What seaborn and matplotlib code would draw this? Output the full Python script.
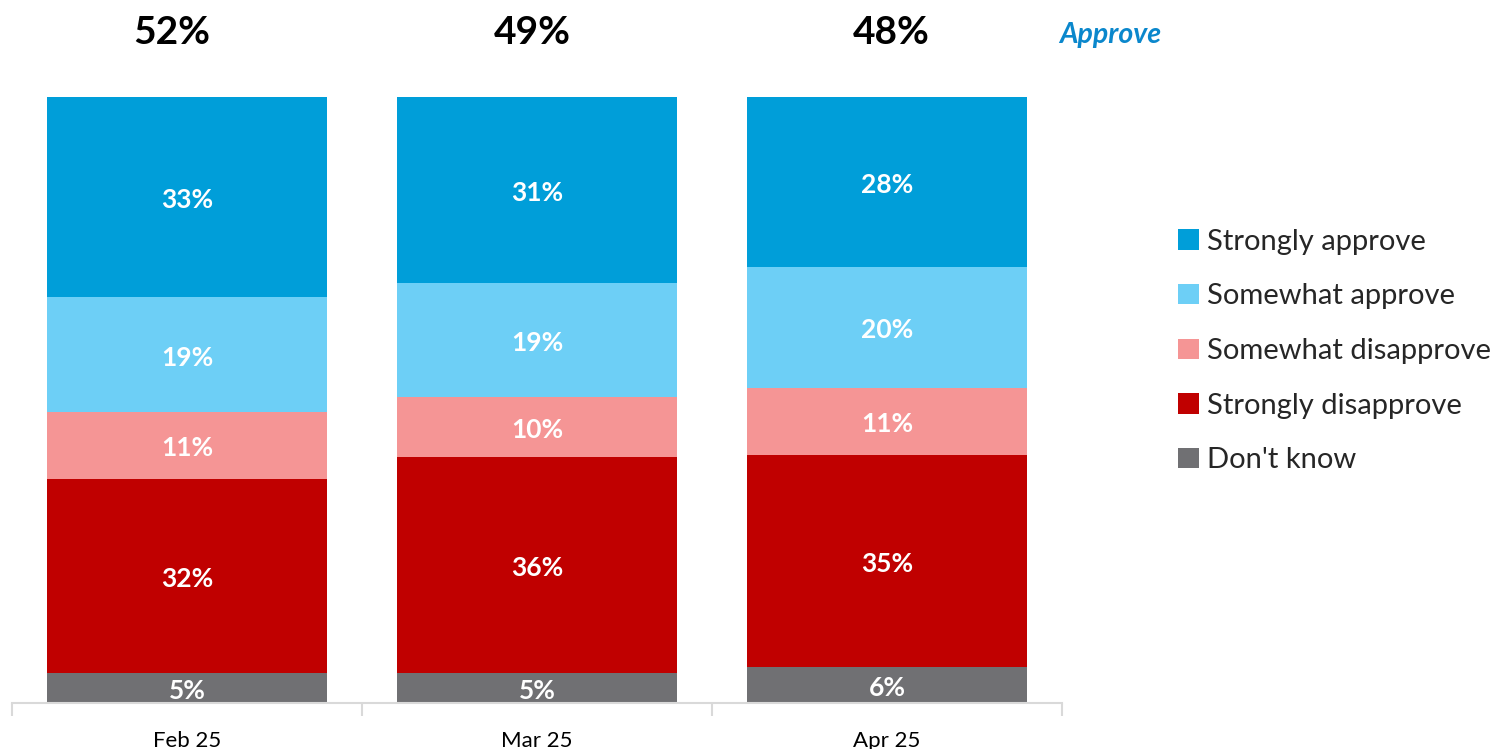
import numpy as np
import pandas as pd
import matplotlib
matplotlib.use("Agg")
import matplotlib.pyplot as plt
import seaborn as sns
from matplotlib.patches import Patch

months = ["Feb 25", "Mar 25", "Apr 25"]
series = ["Strongly approve", "Somewhat approve", "Somewhat disapprove", "Strongly disapprove", "Don't know"]
strongly_approve = [33, 31, 28]
somewhat_approve = [19, 19, 20]
somewhat_disapprove = [11, 10, 11]
strongly_disapprove = [32, 36, 35]
dont_know = [5, 5, 6]
approve_total = [52, 49, 48]
colors = ["#009ED9", "#6DCFF6", "#F59595", "#C00000", "#707073"]

sns.set_theme(style="white")
plt.rcParams['font.family'] = ['Lato', 'DejaVu Sans']

values = [strongly_approve, somewhat_approve, somewhat_disapprove, strongly_disapprove, dont_know]
arr = np.array(values, dtype=float)  # series x months
totals = arr.sum(axis=0)
share = arr / totals  # normalized 100% stacked
bottom_up = share[::-1]
cum = np.cumsum(bottom_up, axis=0)
cum_top_down = cum[::-1]  # top of each series segment

fig = plt.figure(figsize=(14.99, 7.49), dpi=100)
ax = fig.add_axes([12/1499, 46/749, (1062-12)/1499, (703-97)/749])

for i, s in enumerate(series):
    df = pd.DataFrame({"month": months, "val": cum_top_down[i]})
    sns.barplot(data=df, x="month", y="val", color=colors[i], width=0.8,
                saturation=1, ax=ax, edgecolor="none", linewidth=0)

ax.set_xlim(-0.5, 2.5)
ax.set_ylim(0, 1)
ax.set_ylabel("")
ax.set_xlabel("")
ax.set_yticks([])
for sp in ["left", "right", "top"]:
    ax.spines[sp].set_visible(False)
ax.spines["bottom"].set_color("#D9D9D9")
ax.spines["bottom"].set_linewidth(1.5)
ax.set_xticks([-0.5, 0.5, 1.5, 2.5], minor=True)
ax.tick_params(axis="x", which="minor", length=9, width=1.5, color="#D9D9D9", direction="out", bottom=True)
ax.tick_params(axis="x", which="major", length=0, labelsize=16, labelcolor="black", pad=20)

# segment labels
for i in range(len(series)):
    for j in range(len(months)):
        top = cum_top_down[i][j]
        h = share[i][j]
        ax.annotate(f"{int(values[i][j])}%", xy=(j, top - h / 2), xytext=(0, -3),
                    textcoords="offset pixels", ha="center", va="center",
                    color="white", fontsize=19, fontweight="bold")

# approve totals above bars
top_offsets = [-15, -5, 4]
for j in range(len(months)):
    ax.annotate(f"{approve_total[j]}%", xy=(j, 1), xycoords="data",
                xytext=(top_offsets[j], 65), textcoords="offset pixels", ha="center", va="center",
                fontsize=28, fontweight="bold", color="black", annotation_clip=False)
fig.text(1110/1499, 1 - 35/749, "Approve", ha="center", va="center", fontsize=20.5,
         fontweight="bold", fontstyle="italic", color="#0A87CC")

handles = [Patch(facecolor=c, edgecolor="none") for c in colors]
fig.legend(handles, series, loc="center left", bbox_to_anchor=(1152/1499, 1 - 351/749),
           frameon=False, fontsize=21, handlelength=0.7, handleheight=0.7,
           handletextpad=0.3, labelspacing=0.98)

fig.savefig("out.png", dpi=100)
